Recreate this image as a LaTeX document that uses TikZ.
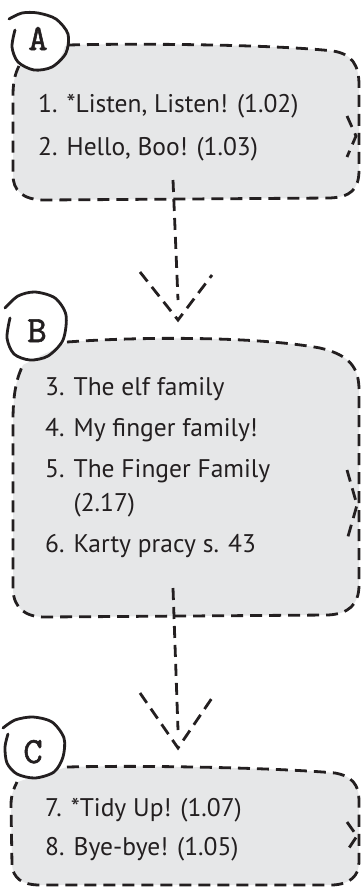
\documentclass[tikz,border=0pt]{standalone}
\usepackage{fontspec}
\setmainfont{PT Sans}
\newfontfamily\tagfont{lmmono10-regular.otf}[FakeBold=1.4]
\definecolor{boxgray}{HTML}{E6E7E8}
\definecolor{ink}{HTML}{231F20}
\begin{document}
\begin{tikzpicture}[x=1pt,y=-1pt,
    dline/.style={ink,line width=2.8pt,dash pattern=on 12pt off 7pt},
    ring/.style={ink,line width=2.8pt,line cap=round,line join=round},
    item/.style={anchor=base west,inner sep=0pt,text=ink,font=\fontsize{25.5}{30}\selectfont},
    tag/.style={anchor=base,inner sep=0pt,text=ink,font=\tagfont\fontsize{37}{37}\selectfont}]
      \useasboundingbox (0,0) rectangle (362,887);
      % box A
      \fill[boxgray] (68,45) .. controls (150,43) and (280,45) .. (333,51) .. controls (352,54) and (359,65) .. (359,85) -- (359,170) .. controls (359,190) and (350,197) .. (330,198) -- (45,200) .. controls (22,200) and (13,190) .. (13,175) -- (13,95) .. controls (13,80) and (16,72) .. (19,66) -- cycle;
      \fill[white] (38,42) circle[radius=27];
      \draw[dline] (68,45) .. controls (150,43) and (280,45) .. (333,51) .. controls (352,54) and (359,65) .. (359,85) -- (359,170) .. controls (359,190) and (350,197) .. (330,198) -- (45,200) .. controls (22,200) and (13,190) .. (13,175) -- (13,95) .. controls (13,80) and (16,72) .. (19,66);
      \draw[dline] (347,116) -- (356,136) -- (347,157);
      \draw[ring] plot[smooth] coordinates {(9,19) (22,13) (38,13) (56,19) (68,34) (66,53) (52,67) (34,70) (18,62) (12,47) (15,30)};
      \node[tag] (la) at (38,50) {A};
      \node[item] (a1) at (38,112) {1. *Listen, Listen! (1.02)};
      \node[item] (a2) at (38,155) {2. Hello, Boo! (1.03)};
      % box B
      \fill[boxgray] (67,342) .. controls (150,336) and (260,337) .. (320,348) .. controls (350,355) and (359,368) .. (359,390) -- (359,585) .. controls (359,605) and (348,614) .. (328,615) -- (45,617) .. controls (25,617) and (14,608) .. (13,590) -- (13,420) .. controls (13,390) and (18,375) .. (23,365) -- cycle;
      \fill[white] (36,326) circle[radius=29];
      \draw[dline] (67,342) .. controls (150,336) and (260,337) .. (320,348) .. controls (350,355) and (359,368) .. (359,390) -- (359,585) .. controls (359,605) and (348,614) .. (328,615) -- (45,617) .. controls (25,617) and (14,608) .. (13,590) -- (13,420) .. controls (13,390) and (18,375) .. (23,365);
      \draw[dline] (347,470) -- (357,505) -- (347,540);
      \draw[ring] plot[smooth] coordinates {(5,308) (18,296) (35,292) (55,298) (66,315) (63,340) (48,356) (30,360) (14,354) (7,338) (10,318)};
      \node[tag] (lb) at (37,342) {B};
      \node[item] (b3) at (45,395) {3. The elf family};
      \node[item] (b4) at (45,436) {4. My finger family!};
      \node[item] (b5) at (45,477) {5. The Finger Family};
      \node[item] (b5x) at (45,511) {\phantom{5. }(2.17)};
      \node[item] (b6) at (45,552) {6. Karty pracy s. 43};
      % box C
      \fill[boxgray] (67,767) .. controls (150,765) and (280,768) .. (335,773) .. controls (352,776) and (359,785) .. (359,800) -- (359,862) .. controls (359,876) and (350,884) .. (333,885) -- (40,885) .. controls (22,885) and (13,878) .. (12,865) -- (11,805) .. controls (11,795) and (14,788) .. (17,782) -- cycle;
      \fill[white] (34,748) circle[radius=29];
      \draw[dline] (67,767) .. controls (150,765) and (280,768) .. (335,773) .. controls (352,776) and (359,785) .. (359,800) -- (359,862) .. controls (359,876) and (350,884) .. (333,885) -- (40,885) .. controls (22,885) and (13,878) .. (12,865) -- (11,805) .. controls (11,795) and (14,788) .. (17,782);
      \draw[dline] (347,822) -- (357,836) -- (347,851);
      \draw[ring] plot[smooth] coordinates {(3,728) (15,720) (33,717) (52,722) (64,738) (63,757) (54,772) (35,778) (17,774) (7,763) (5,747) (8,734)};
      \node[tag] (lc) at (33,763) {C};
      \node[item] (c7) at (45,816) {7. *Tidy Up! (1.07)};
      \node[item] (c8) at (45,855) {8. Bye-bye! (1.05)};
      % arrows
      \coordinate (aout) at (173,180);
      \coordinate (bin) at (178,320);
      \coordinate (bout) at (173,588);
      \coordinate (cin) at (178,748);
      \draw[dline] (aout) -- ([yshift=20pt]bin);
      \draw[dline] (bin) ++(-38,-48) -- (bin) -- ++(34,-45);
      \draw[dline] (bout) -- ([yshift=18pt]cin);
      \draw[dline] (cin) ++(-38,-55) -- (cin) -- ++(34,-50);
\end{tikzpicture}
\end{document}
